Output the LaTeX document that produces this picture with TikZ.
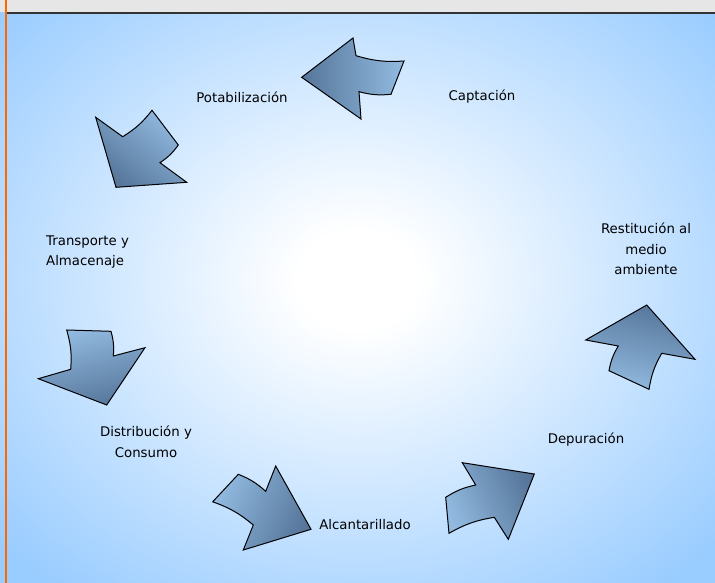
\documentclass[tikz,border=0pt]{standalone}
\usepackage{fontspec}
\setmainfont{DejaVu Sans}
\usepackage{tikz}

\definecolor{bgblue}{HTML}{99CCFF}
\definecolor{bargray}{HTML}{E6E6E6}
\definecolor{barline}{HTML}{333333}
\definecolor{frameorange}{HTML}{FF6600}
\definecolor{arrowdark}{HTML}{56769A}
\definecolor{arrowlight}{HTML}{92BAE0}
\pgfdeclareradialshading{glow}{\pgfpoint{0bp}{0bp}}{color(0bp)=(white); color(4bp)=(white); color(32bp)=(bgblue); color(50bp)=(bgblue)}

\tikzset{
  block/.style={draw=black, line width=1pt, left color=arrowdark, right color=arrowlight, shading angle=#1},
  outerarc/.style={bend right=10},
  innerarc/.style={bend left=10},
  stage/.style={font=\fontsize{13.3}{20.5}\selectfont, align=center, inner sep=0pt}
}

\begin{document}
\begin{tikzpicture}[x=1pt,y=-1pt]
\useasboundingbox (0,0) rectangle (715,583);
\fill[bargray] (0,0) rectangle (715,13) ; % title bar
\fill[bgblue] (0,13) rectangle (715,583) ;
\begin{scope}
\clip (0,13) rectangle (715,583);
\shade[shading=glow] (-20,-30) rectangle (735,590) ; % background
\end{scope}
\draw[barline, line width=2pt] (5,13.5) -- (715,13.5) ;
\draw[frameorange, line width=2pt] (6,0) -- (6,583) ;

\shade[block=90] (301.7,77.3) -- (353,38) -- (356,55.7) to[outerarc] (404,61) -- (391,94.3) to[innerarc] (359,91.7) -- (361,119) -- cycle ; % Captacion to Potabilizacion
\shade[block=141] (95.7,117.3) -- (122.7,136.7) to[outerarc] (152,110.3) -- (178.3,145) to[innerarc] (160,162.7) -- (186.7,182.3) -- (116,187.3) -- cycle ; % Potabilizacion to Transporte
\shade[block=193.5] (111,331.3) to[innerarc] (113.3,356) -- (145,347.7) -- (106.7,405) -- (38.3,378.7) -- (70.7,369.3) to[outerarc] (66.7,330) -- cycle ; % Transporte to Distribucion
\shade[block=-115.6] (238.3,474.3) to[innerarc] (265.7,491.3) -- (275.7,466) -- (311,529.3) -- (243.3,550) -- (253.3,525) to[outerarc] (212.7,501.8) -- cycle ; % Distribucion to Alcantarillado
\shade[block=-65] (445.7,497.3) to[innerarc] (475.7,485) -- (462.3,462.7) -- (534.3,474) -- (508.3,539.3) -- (494.3,517.3) to[outerarc] (449,533.3) -- cycle ; % Depuracion
\shade[block=-13.3] (646.7,305) -- (695,359.3) -- (661.7,353.3) to[outerarc] (649,389.3) -- (609,370.7) to[innerarc] (618.3,346) -- (585.7,340) -- cycle ; % Restitucion

\node[stage] (potab) at (242,97) {Potabilización};
\node[stage] (capt) at (482,97) {Captación};
\node[stage, align=left, anchor=west] (transp) at (46,252) {Transporte y\\Almacenaje};
\node[stage] (distr) at (146,442) {Distribución y\\Consumo};
\node[stage] (alcan) at (365,525) {Alcantarillado};
\node[stage] (depur) at (586,440) {Depuración};
\node[stage] (restit) at (646,249) {Restitución al\\medio\\ambiente};
\end{tikzpicture}
\end{document}
